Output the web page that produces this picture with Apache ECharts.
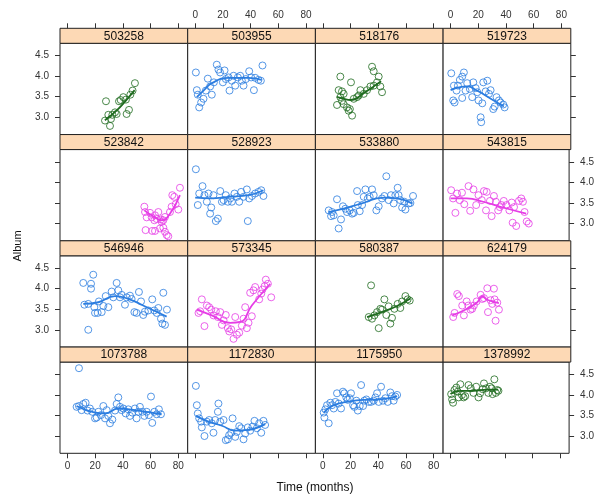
<!DOCTYPE html>
<html>
<head>
<meta charset="utf-8">
<script src="https://cdn.jsdelivr.net/npm/echarts@6/dist/echarts.min.js"></script>
<style>
  html, body { margin: 0; padding: 0; background: #fff; }
  #main { width: 597px; height: 497px; }
</style>
</head>
<body>
<div id="main"></div>
<script>
// panel order: left to right, top row first
var panels = ['503258', '503955', '518176', '519723',
  '523842', '528923', '533880', '543815',
  '546946', '573345', '580387', '624179',
  '1073788', '1172830', '1175950', '1378992']
var panelGroup = ['g', 'b', 'g', 'b', 'm', 'b', 'b', 'm', 'b', 'm', 'g', 'm', 'b', 'b', 'b', 'g']

var xTicks = [0, 20, 40, 60, 80]
var yTicks = [3.0, 3.5, 4.0, 4.5]

// observed points [months, album]
var p503258 = [[27.8,3.39],[48.7,3.83],[47.0,3.65],[45.4,3.55],[40.3,3.49],[38.4,3.42],[42.2,3.43],[37.2,3.39],[44.4,3.18],[42.7,3.08],[35.5,3.08],[32.4,3.06],[29.5,3.06],[31.4,2.96],[27.1,2.92],[30.7,2.79],[34.3,3.12]]
var p503955 = [[0.5,4.09],[1.2,3.66],[1.9,3.55],[2.9,3.24],[4.3,3.36],[6,3.45],[7.7,3.65],[9.1,3.94],[10.8,3.75],[12,3.55],[13.5,3.85],[15.6,4.28],[16.8,4.16],[18,4.09],[21.2,4.14],[20,3.85],[22.1,3.93],[24.1,3.97],[24.8,3.65],[26.5,3.89],[27.7,4.01],[28.9,3.77],[30.8,3.97],[32.5,4.01],[33.7,3.89],[34.9,3.77],[36.6,3.93],[39,4.12],[40.4,3.97],[42.4,3.66],[43.3,3.96],[45.7,3.91],[48.6,4.26],[47.4,3.89]]
var p518176 = [[12.6,3.99],[20.3,3.85],[11.4,3.66],[13.8,3.63],[15,3.57],[12.6,3.49],[10.2,3.30],[13.8,3.40],[15,3.32],[17.4,3.24],[18.6,3.16],[21.1,3.04],[19.5,3.2],[22.3,3.45],[24.7,3.49],[27.1,3.66],[29.5,3.57],[31.9,3.66],[34.3,3.75],[36.7,3.77],[35.5,4.23],[36.7,4.12],[40.3,3.99],[41.5,3.75],[42.7,3.61],[39.1,3.85],[25.9,3.53]]
var p519723 = [[0.5,4.07],[2.4,3.77],[1.9,3.41],[2.9,3.36],[4.3,3.65],[5.3,3.77],[6.7,3.91],[8.4,3.99],[9.6,4.09],[10.8,3.65],[8.4,3.47],[12,3.83],[13.9,3.69],[16.4,3.85],[15.6,3.49],[18.1,3.71],[20.2,3.41],[19.3,3.61],[22.9,3.34],[21.7,3.0],[22.1,2.88],[23.6,3.85],[26.5,3.89],[25.3,3.63],[28.9,3.66],[27.7,3.57],[30.8,3.2],[31.8,3.26],[33.2,3.49],[34.9,3.41],[36.1,3.36],[38,3.31],[39,3.24]]
var p523842 = [[55.5,3.41],[56,3.28],[57.2,3.15],[59.6,3.26],[60.8,3.15],[62.7,3.08],[65.6,3.28],[64.4,3.11],[67.5,3.1],[69.2,3.08],[70.4,3.16],[74,3.28],[75.2,3.41],[75.7,3.69],[77.1,3.65],[78.1,3.47],[80,3.34],[81.2,3.87],[56.4,2.84],[61.2,2.82],[63.2,2.82],[66.8,2.88],[69.2,2.9],[70.4,2.8],[71.6,2.72],[72.8,2.69],[68,3.04],[63.2,3.2]]
var p528923 = [[0.5,4.32],[1.9,3.45],[2.9,3.73],[5.3,3.91],[6.7,3.69],[8.4,3.53],[9.6,3.73],[11.6,3.39],[10.8,3.24],[14.9,3.06],[16.4,3.12],[18.1,3.79],[19.3,3.53],[20.5,3.57],[22.1,3.69],[23.6,3.53],[25.3,3.61],[26.5,3.53],[28.4,3.73],[30.1,3.65],[31.8,3.53],[33.2,3.77],[34.9,3.65],[37.3,3.83],[38,3.06],[39,3.61],[41,3.67],[43.3,3.73],[45.7,3.77],[47.7,3.81],[49.3,3.67],[13.2,3.69]]
var p533880 = [[4.2,3.32],[6.6,3.28],[5.9,3.18],[7.8,3.2],[10.2,3.59],[11.4,2.88],[13.1,3.1],[14.5,3.42],[16.2,3.36],[17.4,3.28],[19.4,3.32],[21.1,3.24],[22.3,3.26],[24.7,3.79],[25.2,3.45],[26.6,3.3],[28.3,3.45],[29.5,3.65],[30.7,3.83],[32.4,3.61],[33.8,3.65],[35.5,3.83],[36.7,3.69],[38.6,3.32],[40.3,3.42],[42.7,3.61],[44.4,3.67],[45.8,4.15],[47.5,3.57],[49.2,3.69],[51.1,3.49],[52.3,3.69],[54,3.87],[54.7,3.69],[55.9,3.57],[57.2,3.39],[58.8,3.53],[59.6,3.34],[62,3.49],[63.2,3.5],[65.1,3.67]]
var p543815 = [[0.5,3.81],[1.9,3.61],[3.6,3.26],[4.8,3.73],[6.7,3.57],[8.4,3.75],[10.1,3.47],[13.2,3.91],[14.4,3.31],[16.8,3.83],[18.8,3.45],[20.5,3.69],[22.9,3.57],[24.5,3.79],[26.5,3.77],[26,3.32],[28.9,3.55],[30.1,3.18],[31.8,3.67],[33.2,3.53],[34.9,3.32],[36.1,3.4],[39,3.55],[41,3.45],[43.1,3.32],[44.8,3.51],[45.5,3.02],[46.5,3.4],[48.1,2.94],[50.1,3.55],[51.8,3.61],[53,3.53],[54.2,3.28],[55.8,3.05],[57.3,3.0],[37.3,3.45]]
var p546946 = [[11.4,4.14],[18.6,4.34],[17,4.12],[17,4.0],[15,3.0],[12.2,3.61],[15,3.63],[19.4,3.55],[19.9,3.41],[21.8,3.41],[24.7,3.43],[22.7,3.69],[25.9,3.58],[27.6,3.82],[29.5,3.55],[31.9,3.93],[33.1,3.79],[35.5,4.14],[36.7,3.96],[37.9,3.79],[39.1,3.85],[41.5,3.61],[42.7,3.79],[45.1,3.83],[46.3,3.75],[48.3,3.43],[49.9,3.41],[51.6,3.92],[53.1,3.69],[54.7,3.36],[55.9,3.44],[58.4,3.47],[61.2,3.74],[62.6,3.47],[64.4,3.41],[65.6,3.53],[67.5,3.27],[69.2,3.9],[68.5,3.15],[70.4,3.12],[71.8,3.49]]
var p573345 = [[2.4,3.41],[3.6,3.45],[4.8,3.74],[6.7,3.09],[8.4,3.59],[10.1,3.55],[11.6,3.49],[13.2,3.35],[14.9,3.45],[16.4,3.31],[18.1,3.43],[19.3,3.12],[20.5,3.23],[22.1,3.36],[23.6,3.04],[24.6,2.96],[26,3.01],[27.7,2.78],[28.9,3.31],[30.1,2.88],[31.8,2.93],[33.7,3.1],[34.9,3.27],[36.1,3.55],[37.3,3.04],[38.5,3.17],[39.7,3.9],[40.9,3.33],[42.1,3.96],[43.3,4.04],[46.2,3.74],[47.7,3.88],[48.6,3.98],[50.1,4.06],[51,4.22],[52.5,4.12],[54.9,3.79]]
var p580387 = [[34.8,4.08],[40.3,3.04],[33.1,3.31],[35.5,3.27],[37.2,3.35],[39.1,3.43],[41.5,3.51],[42.7,3.49],[44.4,3.74],[45.8,3.36],[47.5,3.57],[48.7,3.15],[49.9,3.29],[51.6,3.51],[54,3.63],[55.9,3.53],[57.2,3.69],[59.6,3.82],[61.2,3.74],[62.7,3.71]]
var p624179 = [[1.9,3.31],[2.9,3.41],[4.8,3.87],[6,3.82],[8.4,3.59],[9.6,3.35],[11.6,3.69],[12.8,3.59],[14.4,3.49],[15.6,3.51],[16.8,3.59],[18.8,3.69],[21.7,3.85],[22.9,3.75],[24.1,3.77],[26.5,4.01],[27,3.43],[28.9,3.72],[30.1,3.63],[31.3,4.0],[31.8,3.74],[32.5,3.22],[33.7,3.66],[34.9,3.49]]
var p1073788 = [[8.3,4.65],[6.6,3.71],[8.3,3.73],[10.2,3.63],[11.4,3.78],[13.1,3.81],[14.5,3.62],[16.2,3.67],[17.9,3.59],[19.9,3.43],[21.1,3.45],[22.3,3.59],[24.2,3.51],[25.9,3.73],[27.1,3.43],[28.3,3.63],[29.5,3.49],[30.7,3.31],[32.4,3.4],[34.3,3.62],[35.5,3.78],[36.7,3.94],[37.9,3.71],[39.1,3.63],[40.3,3.67],[42,3.55],[43.9,3.65],[45.1,3.49],[46.8,3.57],[48.7,3.67],[49.9,3.43],[51.1,3.59],[52.3,3.71],[54,3.59],[55.5,3.49],[57.2,3.59],[58.8,3.51],[60.3,3.96],[61.2,3.32],[62.7,3.59],[64.4,3.53],[66,3.65],[67.5,3.53]]
var p1172830 = [[0.5,4.22],[1.2,3.75],[1.9,3.55],[2.9,3.43],[4.3,3.35],[4.8,3.21],[6.7,3.0],[8.4,3.35],[10.1,3.39],[12,3.31],[13.2,3.08],[14.4,3.39],[16.4,3.59],[16.8,3.79],[18.1,3.35],[20.5,3.39],[22.1,2.9],[23.6,2.92],[24.5,3.02],[26,3.08],[27,3.43],[28.9,2.98],[30.1,3.1],[31.8,3.24],[33.2,3.19],[34.9,2.92],[36.1,3.06],[38,3.21],[39.7,3.13],[41.4,3.23],[42.8,3.37],[44.5,3.19],[46.2,3.31],[47.7,3.08],[49.3,3.37],[50.5,3.27]]
var p1175950 = [[0.6,3.57],[1.1,3.45],[1.8,3.65],[3,3.75],[4.2,3.31],[5.4,3.81],[6.6,3.75],[7.8,3.67],[9,3.83],[10.2,4.04],[11.4,3.79],[13.1,3.67],[14.5,4.08],[15.5,4.04],[16.9,3.94],[17.9,3.88],[19.4,3.92],[20.3,4.04],[21.8,3.75],[22.7,3.71],[24.2,3.86],[25.2,3.62],[26.6,3.73],[27.6,4.24],[29,3.73],[29.9,3.86],[31.4,3.89],[33.1,3.83],[34.8,3.83],[36.7,3.86],[37.9,3.94],[39.1,4.04],[40.3,3.83],[42,4.2],[43.4,3.86],[45.1,3.92],[46.8,3.83],[48.7,4.06],[49.9,3.97],[51.1,3.86],[52.3,3.96],[53.6,4.0]]
var p1378992 = [[0.5,4.02],[1.2,3.89],[1.9,3.81],[2.9,4.12],[4.3,4.18],[5.3,4.08],[6,3.94],[7.2,4.26],[8.4,4.0],[9.6,3.94],[10.8,3.97],[13.2,4.24],[14.9,4.16],[16.8,4.05],[18.8,4.2],[20.5,3.94],[21.7,4.04],[23.6,4.14],[24.5,4.28],[26,4.16],[27.7,4.05],[28.9,4.2],[30.1,4.16],[30.8,4.02],[32.1,4.38],[33.2,4.05],[34.2,4.12],[35.1,4.1]]

// smooth curves
var f503258 = [[27,2.93],[35,3.15],[42,3.4],[48.5,3.66]]
var f503955 = [[1.2,3.49],[6,3.65],[12,3.83],[24,3.96],[38.5,3.96],[48,3.91]]
var f518176 = [[10,3.5],[15,3.45],[20,3.42],[30,3.6],[42,3.88]]
var f519723 = [[0,3.66],[12,3.75],[19,3.65],[29,3.45],[38.5,3.26]]
var f523842 = [[55.5,3.32],[63.2,3.15],[68,3.08],[74,3.24],[81.2,3.69]]
var f528923 = [[0,3.63],[12,3.61],[24,3.65],[38.5,3.69],[49.3,3.81]]
var f533880 = [[4.2,3.28],[15,3.36],[27,3.48],[44,3.63],[53.6,3.61],[64.4,3.49]]
var f543815 = [[0,3.61],[12,3.61],[24,3.53],[38.5,3.39],[55.4,3.24]]
var f546946 = [[11.4,3.63],[22.3,3.67],[34.3,3.82],[43.9,3.75],[58.4,3.53],[71.6,3.32]]
var f573345 = [[1.2,3.49],[12,3.35],[25.3,3.17],[32.5,3.19],[40.9,3.59],[54.2,4.12]]
var f580387 = [[31.9,3.31],[44,3.45],[53.6,3.58],[63.2,3.76]]
var f624179 = [[1.2,3.35],[12,3.51],[19.3,3.67],[22.9,3.81],[26.5,3.73],[34.9,3.65]]
var f1073788 = [[6.6,3.73],[19.9,3.57],[27.1,3.55],[36.7,3.67],[48.7,3.63],[68,3.53]]
var f1172830 = [[0.5,3.49],[9.6,3.35],[19.3,3.25],[28.9,3.13],[38.5,3.15],[50.5,3.29]]
var f1175950 = [[0.6,3.57],[7.8,3.75],[17.4,3.83],[29.5,3.88],[41.5,3.89],[53.6,3.97]]
var f1378992 = [[0,4.02],[7.2,4.1],[16.8,4.1],[26.5,4.13],[34.9,4.13]]

var points = [p503258, p503955, p518176, p519723, p523842, p528923, p533880, p543815,
  p546946, p573345, p580387, p624179, p1073788, p1172830, p1175950, p1378992]
var fits = [f503258, f503955, f518176, f519723, f523842, f528923, f533880, f543815,
  f546946, f573345, f580387, f624179, f1073788, f1172830, f1175950, f1378992]

var colors = { b: '#2b7de0', g: '#1f6b1f', m: '#e63ce6' }

// lattice layout
var LEFT = 60, COLW = 127.7, TOP = 28.3, ROWH = 106.25, STRIPH = 15
var textCol = '#333'

var grids = [], xAxes = [], yAxes = [], series = [], graphics = []
panels.forEach(function (id, i) {
  var row = Math.floor(i / 4), col = i % 4
  var gl = LEFT + col * COLW
  var st = TOP + row * ROWH
  grids.push({
    left: gl, top: st + STRIPH, width: COLW, height: ROWH - STRIPH,
    show: true, borderColor: '#222', borderWidth: 1, backgroundColor: '#fff'
  })
  var xShow = row === 0 || row === 3
  xAxes.push({
    type: 'value', gridIndex: i, min: -5.4, max: 86.8,
    show: xShow,
    position: row === 0 ? 'top' : 'bottom',
    offset: row === 0 ? STRIPH : 0,
    axisLine: { show: false, onZero: false },
    axisTick: { show: true, length: 5, customValues: xTicks, lineStyle: { color: textCol } },
    axisLabel: {
      show: (row === 0 && col % 2 === 1) || (row === 3 && col % 2 === 0),
      customValues: xTicks, fontSize: 10, color: textCol, margin: 8
    },
    splitLine: { show: false }
  })
  var yShow = col === 0 || col === 3
  yAxes.push({
    type: 'value', gridIndex: i, min: 2.58, max: 4.8,
    show: yShow,
    position: col === 0 ? 'left' : 'right',
    axisLine: { show: false, onZero: false },
    axisTick: { show: true, length: 5, customValues: yTicks, lineStyle: { color: textCol } },
    axisLabel: {
      show: (col === 0 && row % 2 === 0) || (col === 3 && row % 2 === 1),
      customValues: yTicks, fontSize: 10, color: textCol, margin: 11,
      formatter: function (v) { return v.toFixed(1) }
    },
    splitLine: { show: false }
  })
  var c = colors[panelGroup[i]]
  series.push({
    type: 'scatter', xAxisIndex: i, yAxisIndex: i, data: points[i],
    symbol: 'circle', symbolSize: 7,
    itemStyle: { color: 'rgba(0,0,0,0)', borderColor: c, borderWidth: 1 }
  })
  series.push({
    type: 'line', xAxisIndex: i, yAxisIndex: i, data: fits[i],
    smooth: true, showSymbol: false,
    lineStyle: { color: c, width: 1.8 }
  })
  // strip
  graphics.push({
    type: 'rect', shape: { x: gl, y: st, width: COLW, height: STRIPH },
    style: { fill: '#fdd9b5', stroke: '#222', lineWidth: 1 }
  })
  graphics.push({
    type: 'text', x: gl + COLW / 2, y: st + STRIPH / 2 + 0.5,
    style: { text: id, font: '12px "Liberation Sans", Arial, sans-serif', fill: '#111', align: 'center', verticalAlign: 'middle' }
  })
})

graphics.push({
  type: 'text', x: 18, y: 246, rotation: Math.PI / 2,
  style: { text: 'Album', font: '11px "Liberation Sans", Arial, sans-serif', fill: '#111', align: 'center', verticalAlign: 'middle' }
})
graphics.push({
  type: 'text', x: 315, y: 488,
  style: { text: 'Time (months)', font: '12px "Liberation Sans", Arial, sans-serif', fill: '#111', align: 'center', verticalAlign: 'middle' }
})

var myChart = echarts.init(document.getElementById('main'))
myChart.setOption({
  animation: false,
  textStyle: { fontFamily: '"Liberation Sans", Arial, sans-serif' },
  grid: grids,
  xAxis: xAxes,
  yAxis: yAxes,
  series: series,
  graphic: graphics
})
</script>
</body>
</html>
